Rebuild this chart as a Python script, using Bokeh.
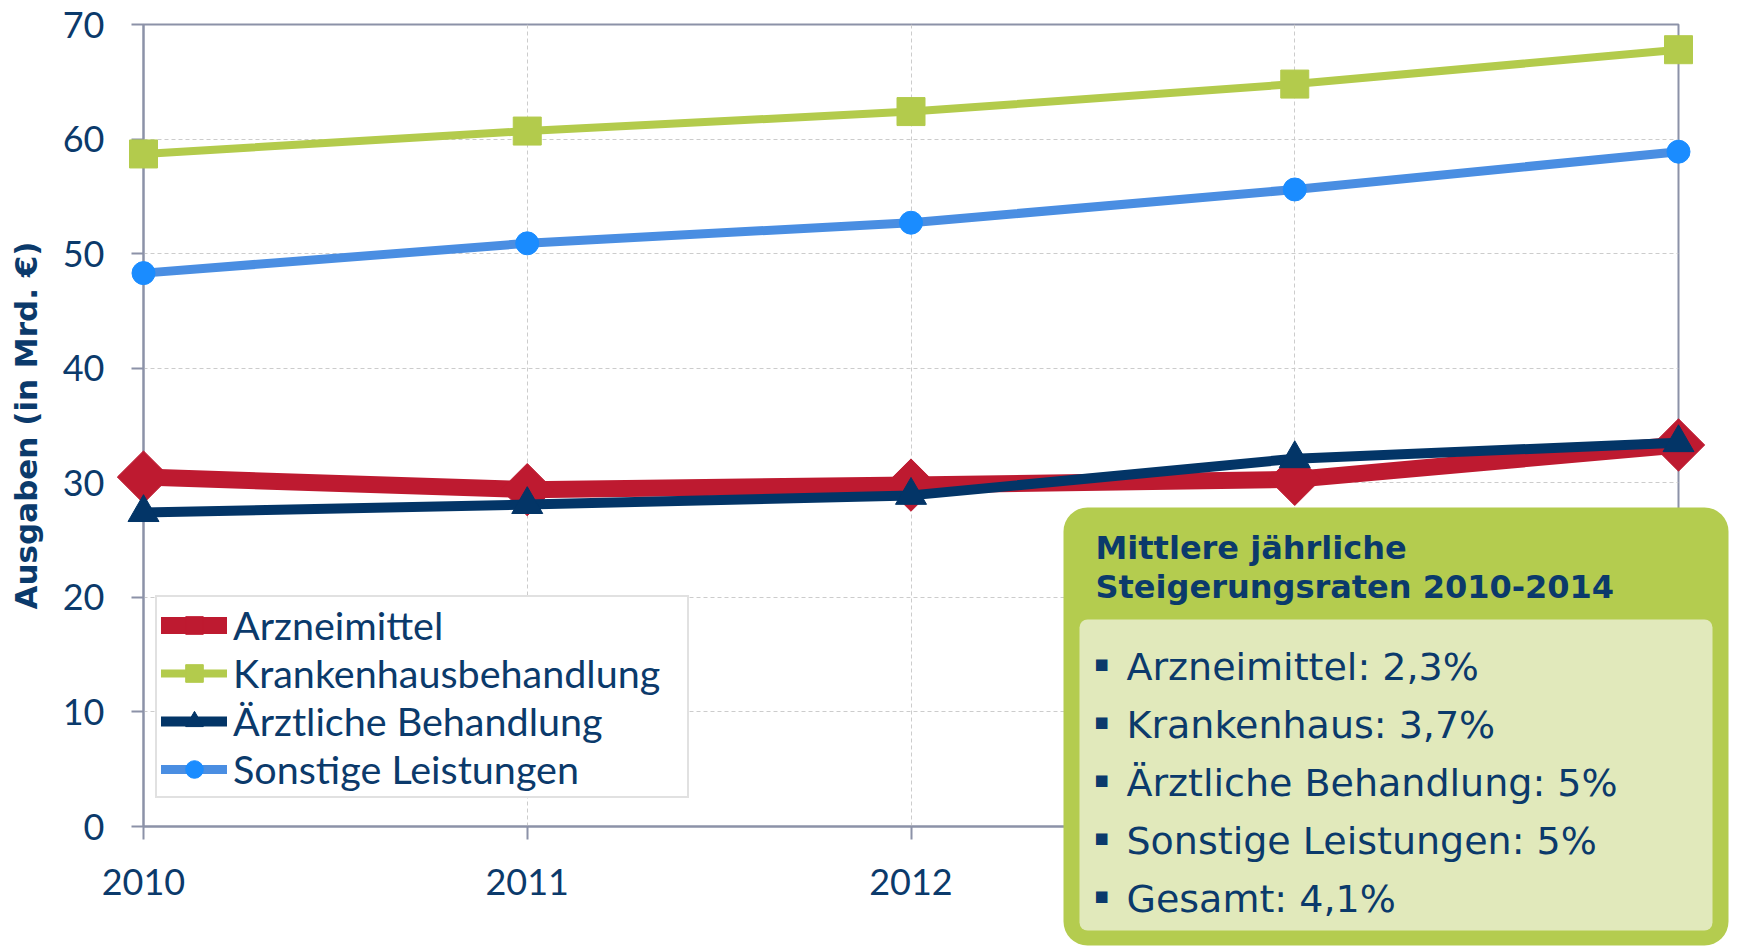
import numpy as np
from bokeh.plotting import figure
from bokeh.models import FixedTicker, Legend, LegendItem
from bokeh.core.properties import value
from bokeh.embed import file_html
from bokeh.resources import INLINE

# ---------------- data ----------------
years = [2010, 2011, 2012, 2013, 2014]
arzneimittel = [30.5, 29.4, 29.8, 30.3, 33.3]
krankenhaus = [58.7, 60.7, 62.4, 64.8, 67.8]
aerztlich = [27.4, 28.1, 28.9, 32.1, 33.5]
sonstige = [48.3, 50.9, 52.7, 55.6, 58.9]
series_names = ["Arzneimittel", "Krankenhausbehandlung",
                "Ärztliche Behandlung", "Sonstige Leistungen"]
x_ticks = [2010, 2011, 2012, 2013, 2014]
y_ticks = [0, 10, 20, 30, 40, 50, 60, 70]
y_title = "Ausgaben (in Mrd. €)"
box_title = ["Mittlere jährliche", "Steigerungsraten 2010-2014"]
box_items = ["Arzneimittel: 2,3%", "Krankenhaus: 3,7%",
             "Ärztliche Behandlung: 5%", "Sonstige Leistungen: 5%",
             "Gesamt: 4,1%"]

# ---------------- styles ----------------
NAVY = "#0b3a6b"
RED = "#be1a30"
GREEN = "#b3cb4c"
DARKBLUE = "#033567"
LBLUE = "#4a8ee2"
LBLUE_M = "#1a8cff"
AXIS = "#8c92a8"
GRID = "#cccccc"
BOX_OUT = "#b4cc4f"
BOX_IN = "#e1e9bb"

W, H = 1740, 946
FL, FR, FT, FB = 143, 1678, 24, 826  # frame edges (canvas px)
X0, X1, Y0, Y1 = 2010, 2014, 0, 70


def fx(px):
    return X0 + (px - FL) * (X1 - X0) / (FR - FL)


def fy(py):
    return Y0 + (FB - py) * (Y1 - Y0) / (FB - FT)


p = figure(width=W, height=H, x_range=(X0, X1), y_range=(Y0, Y1),
           min_border_left=FL, min_border_right=W - FR,
           min_border_top=FT, min_border_bottom=H - FB,
           output_backend="svg", toolbar_location=None)
p.background_fill_color = "white"
p.border_fill_color = "white"
p.outline_line_color = AXIS
p.outline_line_width = 2

# axes
for ax in (p.xaxis[0], p.yaxis[0]):
    ax.axis_line_color = AXIS
    ax.axis_line_width = 2
    ax.major_tick_line_color = AXIS
    ax.major_tick_line_width = 2
    ax.major_tick_in = 0
    ax.minor_tick_line_color = None
    ax.major_label_text_font = "Lato"
    ax.major_label_text_font_size = "36px"
    ax.major_label_text_color = NAVY
p.xaxis.ticker = FixedTicker(ticks=x_ticks)
p.yaxis.ticker = FixedTicker(ticks=y_ticks)
p.xaxis.major_tick_out = 13
p.yaxis.major_tick_out = 12
p.xaxis.major_label_standoff = 29
p.yaxis.major_label_standoff = 27
p.yaxis.axis_label = y_title
p.yaxis.axis_label_text_font = "DejaVu Sans"
p.yaxis.axis_label_text_font_style = "bold"
p.yaxis.axis_label_text_font_size = "31px"
p.yaxis.axis_label_text_color = NAVY
p.yaxis.axis_label_standoff = 16

# grid
for g in (p.xgrid[0], p.ygrid[0]):
    g.grid_line_color = GRID
    g.grid_line_dash = "4 3"
    g.grid_line_width = 1
p.xgrid.ticker = FixedTicker(ticks=x_ticks)
p.ygrid.ticker = FixedTicker(ticks=y_ticks)

# series
specs = [
    (krankenhaus, GREEN, 8, "square", GREEN, 28, 0.0),
    (sonstige, LBLUE, 9, "circle", LBLUE_M, 23, 0.0),
    (arzneimittel, RED, 17, "square", RED, 37, np.pi / 4),
    (aerztlich, DARKBLUE, 10, "triangle", DARKBLUE, 31, 0.0),
]
rend = {}
for vals, lc, lw, mk, mc, ms, ang in specs:
    lr = p.line(years, vals, line_color=lc, line_width=lw, line_join="round",
                line_cap="round", level="overlay")
    sr = p.scatter(years, vals, marker=mk, size=ms, angle=ang,
                   fill_color=mc, line_color=mc, level="overlay")
    rend[id(vals)] = [lr, sr]

items = [
    LegendItem(label=series_names[0], renderers=rend[id(arzneimittel)]),
    LegendItem(label=series_names[1], renderers=rend[id(krankenhaus)]),
    LegendItem(label=series_names[2], renderers=rend[id(aerztlich)]),
    LegendItem(label=series_names[3], renderers=rend[id(sonstige)]),
]
legend = Legend(items=items, location=(12, 28), orientation="vertical",
                label_text_font="Lato", label_text_font_size="39.5px",
                label_text_color=NAVY, glyph_width=66, glyph_height=44,
                label_height=44, label_width=450, spacing=1, padding=4,
                label_standoff=6,
                border_line_color="#c4c4c4", border_line_width=2,
                background_fill_color="white", background_fill_alpha=1.0,
                margin=0)
p.add_layout(legend)

# info box (annotation, drawn on top)
p.quad(left=[fx(1063)], right=[fx(1728)], top=[fy(507)], bottom=[fy(945)],
       fill_color=BOX_OUT, line_color=None, border_radius=24, level="overlay")
p.quad(left=[fx(1079)], right=[fx(1712)], top=[fy(619)], bottom=[fy(930)],
       fill_color=BOX_IN, line_color=None, border_radius=8, level="overlay")
p.text(x=[fx(1095)] * 2, y=[fy(547), fy(586)], text=box_title,
       text_font=value("DejaVu Sans"), text_font_style="bold",
       text_font_size="32px", text_color=NAVY, text_align="left",
       text_baseline="middle", level="overlay")
row_py = [666, 724, 782, 840, 898]
p.text(x=[fx(1101)] * len(box_items), y=[fy(r - 3) for r in row_py],
       text=["■"] * len(box_items), text_font=value("DejaVu Sans"),
       text_font_size="15px", text_color=NAVY, text_align="center",
       text_baseline="middle", level="overlay")
p.text(x=[fx(1126)] * len(box_items), y=[fy(r) for r in row_py],
       text=box_items, text_font=value("DejaVu Sans"),
       text_font_size="38px", text_color=NAVY, text_align="left",
       text_baseline="middle", level="overlay")

open("out.html", "w").write(file_html(p, INLINE))
